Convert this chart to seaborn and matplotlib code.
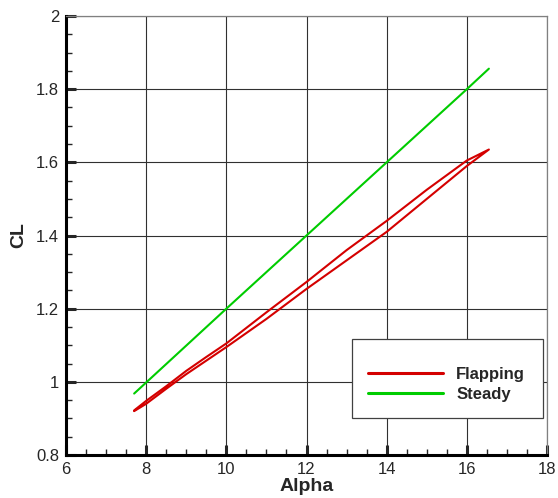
import numpy as np
import pandas as pd
import seaborn as sns
import matplotlib.pyplot as plt
from matplotlib.ticker import MultipleLocator, FuncFormatter

# flapping hysteresis loop: lower branch going up, upper branch coming back
flap_alpha = [7.7, 8.0, 8.5, 9.0, 9.5, 10.0, 11.0, 12.0, 13.0, 14.0, 15.0, 16.0, 16.55,
              16.0, 15.0, 14.0, 13.0, 12.0, 11.0, 10.0, 9.5, 9.0, 8.5, 8.0, 7.7]
flap_cl = [0.920, 0.940, 0.981, 1.021, 1.058, 1.095, 1.172, 1.254, 1.332, 1.410, 1.500, 1.590, 1.635,
           1.605, 1.525, 1.440, 1.360, 1.273, 1.190, 1.105, 1.068, 1.030, 0.988, 0.948, 0.922]

steady_alpha = [7.7, 10.0, 12.0, 14.0, 16.0, 16.55]
steady_cl = [0.968, 1.200, 1.400, 1.600, 1.800, 1.856]

flap = pd.DataFrame({'Alpha': flap_alpha, 'CL': flap_cl})
steady = pd.DataFrame({'Alpha': steady_alpha, 'CL': steady_cl})

sns.set_style('white')
plt.rcParams['font.family'] = ['Liberation Sans', 'DejaVu Sans']

fig = plt.figure(figsize=(5.58, 4.98), dpi=100)
ax = fig.add_axes([0.1183, 0.0863, 0.8620, 0.8816])

sns.lineplot(data=flap, x='Alpha', y='CL', sort=False, estimator=None,
             color='#d40000', lw=1.5, label='Flapping', ax=ax)
sns.lineplot(data=steady, x='Alpha', y='CL', sort=False, estimator=None,
             color='#00cc00', lw=1.5, label='Steady', ax=ax)

ax.set_xlim(6, 18)
ax.set_ylim(0.8, 2.0)
ax.xaxis.set_major_locator(MultipleLocator(2))
ax.xaxis.set_minor_locator(MultipleLocator(0.5))
ax.yaxis.set_major_locator(MultipleLocator(0.2))
ax.yaxis.set_minor_locator(MultipleLocator(0.05))
ax.yaxis.set_major_formatter(FuncFormatter(lambda v, p: '%g' % round(v, 2)))
ax.xaxis.set_major_formatter(FuncFormatter(lambda v, p: '%g' % v))

ax.grid(True, which='major', color='#303030', lw=0.8)
ax.tick_params(which='major', direction='in', length=7, width=2.2, labelsize=12,
               top=False, right=False, bottom=True, left=True, pad=5)
ax.tick_params(which='minor', direction='in', length=4.5, width=1,
               top=False, right=False, bottom=True, left=True)

for side in ['left', 'bottom']:
    ax.spines[side].set_color('black')
    ax.spines[side].set_linewidth(2.2)
for side in ['top', 'right']:
    ax.spines[side].set_color('#808080')
    ax.spines[side].set_linewidth(0.9)

ax.set_xlabel('Alpha', fontsize=14, fontweight='bold', labelpad=1)
ax.set_ylabel('CL', fontsize=14, fontweight='bold', labelpad=6)

# blank title just pushes the entries down a little, like the reference box
leg = ax.legend(loc='lower left', bbox_to_anchor=(0.595, 0.084, 0.397, 0.173),
                mode='expand', borderaxespad=0, fancybox=False, framealpha=1,
                edgecolor='#404040', prop={'weight': 'bold', 'size': 12},
                title=' ', title_fontsize=5,
                handlelength=4.5, handletextpad=0.8, borderpad=0.95, labelspacing=0.3)
leg.get_frame().set_linewidth(0.9)
for line in leg.get_lines():
    line.set_linewidth(2.2)

fig.savefig('out.png', dpi=100)
